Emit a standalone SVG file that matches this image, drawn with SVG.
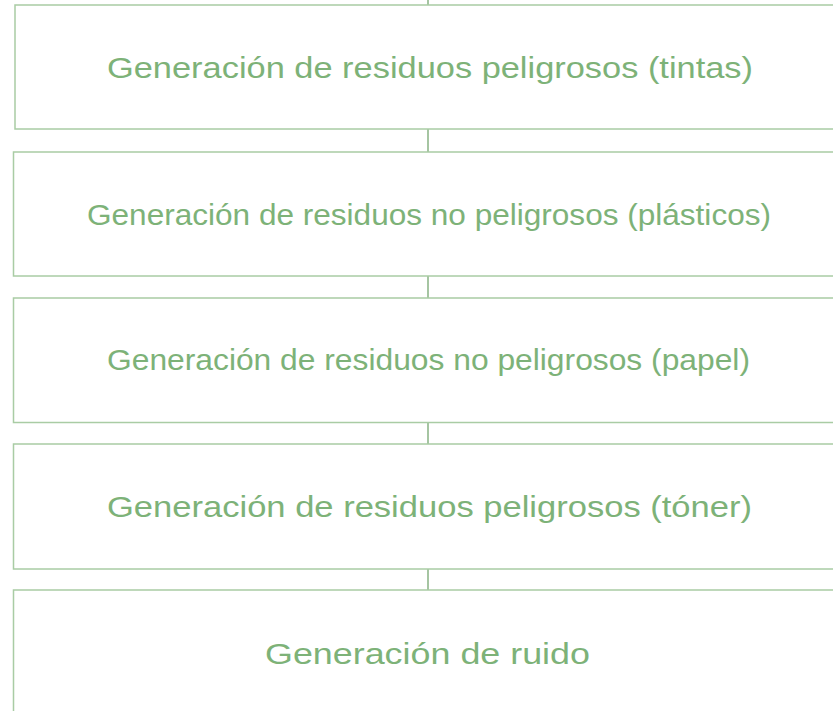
<svg xmlns="http://www.w3.org/2000/svg" width="833" height="711" viewBox="0 0 833 711">
<style>
.box{fill:#ffffff;stroke:#a9cca4;stroke-width:1.5}
.lbl{font-family:"Liberation Sans",Arial,sans-serif;fill:#7db278;text-anchor:middle;font-size:30px}
.conn{stroke:#76a670;stroke-width:1.3;fill:none}
</style>
<rect width="833" height="711" fill="#ffffff"/>
<g id="connectors">
<line class="conn" x1="428" y1="0" x2="428" y2="5"/>
<line class="conn" x1="428" y1="129" x2="428" y2="152"/>
<line class="conn" x1="428" y1="276" x2="428" y2="298"/>
<line class="conn" x1="428" y1="422.5" x2="428" y2="444"/>
<line class="conn" x1="428" y1="569" x2="428" y2="590"/>
</g>
<g id="n1">
<rect class="box" x="15" y="5" width="840" height="124"/>
<text class="lbl" x="430" y="78" textLength="646" lengthAdjust="spacingAndGlyphs">Generación de residuos peligrosos (tintas)</text>
</g>
<g id="n2">
<rect class="box" x="13.5" y="152" width="840" height="124"/>
<text class="lbl" x="429" y="225" textLength="684" lengthAdjust="spacingAndGlyphs">Generación de residuos no peligrosos (plásticos)</text>
</g>
<g id="n3">
<rect class="box" x="13.5" y="298" width="840" height="124.5"/>
<text class="lbl" x="428.5" y="370" textLength="643" lengthAdjust="spacingAndGlyphs">Generación de residuos no peligrosos (papel)</text>
</g>
<g id="n4">
<rect class="box" x="13.5" y="444" width="840" height="125"/>
<text class="lbl" x="429.5" y="517" textLength="645" lengthAdjust="spacingAndGlyphs">Generación de residuos peligrosos (tóner)</text>
</g>
<g id="n5">
<rect class="box" x="13.5" y="590" width="840" height="140"/>
<text class="lbl" x="427.5" y="664" textLength="325" lengthAdjust="spacingAndGlyphs">Generación de ruido</text>
</g>
</svg>
